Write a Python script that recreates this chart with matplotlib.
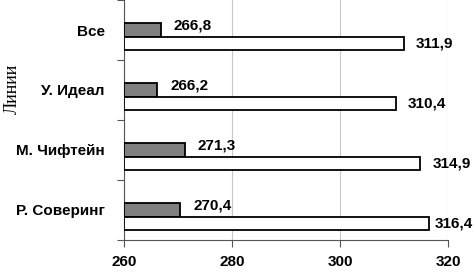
import matplotlib.pyplot as plt
import numpy as np

categories = ["Все", "У. Идеал", "М. Чифтейн", "Р. Соверинг"]
gray_values = [266.8, 266.2, 271.3, 270.4]
white_values = [311.9, 310.4, 314.9, 316.4]
gray_labels = ["266,8", "266,2", "271,3", "270,4"]
white_labels = ["311,9", "310,4", "314,9", "316,4"]
x_ticks = [260, 280, 300, 320]

plt.rcParams["font.family"] = ["Liberation Sans", "DejaVu Sans"]

fig = plt.figure(figsize=(4.74, 2.73), dpi=100)
ax = fig.add_axes([124 / 474, 1 - 240 / 273, 324 / 474, 240 / 273])

n = len(categories)
centers = np.arange(n) + 0.5
h = 0.225
gray_y = centers
white_y = gray_y + h

left = 260
ax.barh(gray_y, np.array(gray_values) - left, left=left, height=h,
        color="#808080", edgecolor="black", linewidth=1.3, zorder=3)
ax.barh(white_y, np.array(white_values) - left, left=left, height=h,
        color="white", edgecolor="black", linewidth=1.3, zorder=3)

for y, v, s in zip(gray_y, gray_values, gray_labels):
    ax.text(v + 2.4, y - 0.08, s, ha="left", va="center",
            fontsize=11, fontweight="bold")
for y, v, s in zip(white_y, white_values, white_labels):
    ax.text(min(v + 2.2, 317.6), y, s, ha="left", va="center",
            fontsize=11, fontweight="bold", clip_on=False)

ax.set_xlim(260, 320)
ax.set_ylim(n, 0)
ax.set_xticks(x_ticks)
ax.set_xticklabels([str(t) for t in x_ticks], fontsize=11, fontweight="bold")
ax.set_yticks(np.arange(n + 1))
ax.set_yticklabels([])
ax.set_yticks(centers, minor=True)
ax.set_yticklabels(categories, minor=True, fontsize=11, fontweight="bold")
ax.tick_params(axis="y", which="minor", length=0, pad=14)
ax.tick_params(axis="y", which="major", length=5, direction="out", color="#555555")
ax.tick_params(axis="x", length=5, direction="out", pad=6, color="#555555")

ax.grid(axis="x", color="#c8c8c8", linewidth=0.8, zorder=0)
for side in ["top", "right"]:
    ax.spines[side].set_visible(False)
ax.spines["left"].set_color("#555555")
ax.spines["bottom"].set_color("#555555")

fig.text(12 / 474, 1 - 89 / 273, "Линии", rotation=90, ha="center", va="center",
         fontsize=13, family=["Liberation Serif", "DejaVu Serif"])

fig.savefig("out.png", dpi=100)
